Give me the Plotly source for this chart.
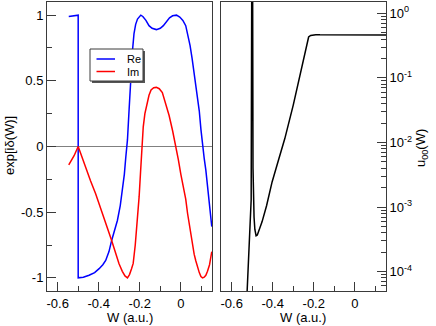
"""Phase factor and u00 versus W."""

import plotly.graph_objects as go

# left panel: exp[i delta(W)]
w_re = [-0.546, -0.53, -0.515, -0.5, -0.5, -0.475, -0.447, -0.42, -0.398, -0.38,
        -0.366, -0.35, -0.337, -0.32, -0.309, -0.295, -0.285, -0.275, -0.268, -0.26,
        -0.252, -0.244, -0.236, -0.228, -0.22, -0.211, -0.203, -0.195, -0.185, -0.17,
        -0.155, -0.14, -0.119, -0.10, -0.085, -0.07, -0.055, -0.04, -0.021, -0.005,
        0.01, 0.024, 0.035, 0.045, 0.055, 0.065, 0.073, 0.081, 0.09, 0.098,
        0.106, 0.114, 0.122, 0.13, 0.14, 0.151]
re = [0.990, 0.995, 0.999, 1.0, -1.0, -0.995, -0.98, -0.96, -0.93, -0.90,
      -0.867, -0.80, -0.715, -0.62, -0.563, -0.45, -0.335, -0.21, -0.08, 0.05,
      0.28, 0.52, 0.72, 0.86, 0.93, 0.97, 0.99, 1.0, 0.99, 0.96,
      0.92, 0.90, 0.89, 0.90, 0.92, 0.95, 0.98, 0.995, 1.0, 0.985,
      0.96, 0.92, 0.85, 0.77, 0.67, 0.56, 0.48, 0.40, 0.27, 0.13,
      0.0, -0.09, -0.18, -0.30, -0.44, -0.61]

w_im = [-0.546, -0.52, -0.5, -0.48, -0.463, -0.44, -0.415, -0.39, -0.366, -0.337,
        -0.32, -0.301, -0.285, -0.272, -0.26, -0.25, -0.24, -0.232, -0.222, -0.211,
        -0.203, -0.196, -0.19, -0.183, -0.175, -0.165, -0.155, -0.145, -0.132, -0.119,
        -0.105, -0.09, -0.073, -0.057, -0.04, -0.024, -0.012, 0.0, 0.012, 0.024,
        0.033, 0.045, 0.055, 0.065, 0.073, 0.081, 0.09, 0.098, 0.106, 0.114,
        0.122, 0.13, 0.14, 0.151]
im = [-0.14, -0.07, 0.0, -0.09, -0.157, -0.26, -0.36, -0.47, -0.576, -0.715,
      -0.80, -0.892, -0.95, -0.985, -1.0, -0.975, -0.93, -0.89, -0.75, -0.57,
      -0.38, -0.19, 0.0, 0.15, 0.25, 0.32, 0.39, 0.43, 0.447, 0.45,
      0.44, 0.41, 0.32, 0.236, 0.12, 0.0, -0.10, -0.21, -0.31, -0.40,
      -0.51, -0.64, -0.73, -0.82, -0.87, -0.92, -0.96, -0.99, -1.0, -0.995,
      -0.98, -0.95, -0.90, -0.80]

# right panel: u00(W), log scale
w_u = [-0.526, -0.515, -0.505, -0.5015, -0.4985, -0.496, -0.494, -0.491, -0.487,
       -0.481, -0.475, -0.467, -0.452, -0.43, -0.403, -0.37, -0.341, -0.30,
       -0.273, -0.25, -0.24, -0.232, -0.225, -0.215, -0.205, -0.19, -0.17,
       -0.1, 0.0, 0.155]
u00 = [4.0e-5, 2.8e-4, 1.3e-3, 20.0, 20.0, 4.0e-3, 1.5e-3, 7.0e-4, 4.5e-4,
       3.6e-4, 3.7e-4, 4.3e-4, 5.9e-4, 1.05e-3, 2.45e-3, 5.6e-3, 1.15e-2, 3.8e-2,
       9.5e-2, 0.204, 0.28, 0.37, 0.43, 0.455, 0.465, 0.468, 0.466,
       0.464, 0.463, 0.463]

x_ticks = [-0.6, -0.4, -0.2, 0]
x_labels = ["-0.6", "-0.4", "-0.2", "0"]
y_ticks = [-1, -0.5, 0, 0.5, 1]
y_labels = ["-1", "-0.5", "0", "0.5", "1"]
log_ticks = [1e-4, 1e-3, 1e-2, 1e-1, 1]
log_labels = ["10<sup>-4</sup>", "10<sup>-3</sup>", "10<sup>-2</sup>",
              "10<sup>-1</sup>", "10<sup>0</sup>"]

minor_log = [m * 10.0 ** e for e in range(-5, 1) for m in range(2, 10)]

W, H = 436, 326
ML, MR, MT, MB = 47, 50, 2, 35
PW, PH = W - ML - MR, H - MT - MB


def px(x):
    return (x - ML) / PW


def py(y):
    return (H - MB - y) / PH


fig = go.Figure()

fig.add_trace(go.Scatter(x=w_re, y=re, mode="lines", name="Re",
                         line=dict(color="#0000ff", width=1.5)))
fig.add_trace(go.Scatter(x=w_im, y=im, mode="lines", name="Im",
                         line=dict(color="#ff0000", width=1.5)))
fig.add_trace(go.Scatter(x=w_u, y=u00, mode="lines",
                         line=dict(color="black", width=1.5),
                         xaxis="x2", yaxis="y2"))

frame = "#3a3a3a"
font = "Liberation Sans, Arial, sans-serif"

fig.update_layout(
    width=W, height=H,
    margin=dict(l=ML, r=MR, t=MT, b=MB, autoexpand=False),
    plot_bgcolor="white", paper_bgcolor="white",
    font=dict(family=font, size=13, color="black"),
    showlegend=False,
    xaxis=dict(domain=[0, px(212)], range=[-0.652, 0.152], showgrid=False, zeroline=False,
               showline=True, linecolor=frame, mirror=True, automargin=False,
               tickvals=x_ticks, ticktext=x_labels, ticks="inside", ticklen=9,
               tickcolor=frame,
               minor=dict(tickvals=[-0.5, -0.3, -0.1, 0.1], ticks="inside", ticklen=5,
                          tickcolor=frame)),
    yaxis=dict(range=[-1.1, 1.1], showgrid=False, zeroline=True, zerolinecolor="#808080",
               zerolinewidth=1, showline=True, linecolor=frame, mirror=True,
               automargin=False,
               tickvals=y_ticks, ticktext=y_labels, ticks="inside", ticklen=9,
               tickcolor=frame,
               minor=dict(tickvals=[-0.75, -0.25, 0.25, 0.75], ticks="inside", ticklen=5,
                          tickcolor=frame)),
    xaxis2=dict(domain=[px(221), 1], range=[-0.652, 0.152], anchor="y2", showgrid=False,
                zeroline=False, showline=True, linecolor=frame, mirror=True,
                automargin=False,
                tickvals=x_ticks, ticktext=x_labels, ticks="inside", ticklen=9,
                tickcolor=frame,
                minor=dict(tickvals=[-0.5, -0.3, -0.1, 0.1], ticks="inside", ticklen=5,
                           tickcolor=frame)),
    yaxis2=dict(type="log", range=[-4.30, 0.176], anchor="x2", side="right",
                showgrid=False, zeroline=False, showline=True, linecolor=frame, mirror=True,
                automargin=False,
                tickvals=log_ticks, ticktext=log_labels, ticks="inside", ticklen=9,
                tickcolor=frame,
                minor=dict(tickvals=minor_log, ticks="inside", ticklen=5, tickcolor=frame)),
)

# axis titles
titles = [
    ("W (a.u.)", 130, 317, 0),
    ("W (a.u.)", 303, 317, 0),
    ("exp[iδ(W)]", 9, 146, -90),
    ("u<sub>00</sub>(W)", 421, 148, -90),
]
for text, x, y, angle in titles:
    fig.add_annotation(text=text, x=px(x), y=py(y), xref="paper", yref="paper",
                       showarrow=False, textangle=angle, font=dict(size=13),
                       xanchor="center", yanchor="middle")

# legend box drawn by hand
fig.add_shape(type="rect", xref="paper", yref="paper",
              x0=px(92), x1=px(145), y0=py(51), y1=py(83),
              fillcolor="#555555", line=dict(width=0))
fig.add_shape(type="rect", xref="paper", yref="paper",
              x0=px(90), x1=px(143), y0=py(49), y1=py(81),
              fillcolor="white", line=dict(color=frame, width=1))
legend_items = [("Re", "#0000ff", 59), ("Im", "#ff0000", 71.5)]
for text, color, y in legend_items:
    fig.add_shape(type="line", xref="paper", yref="paper",
                  x0=px(96.5), x1=px(115), y0=py(y), y1=py(y),
                  line=dict(color=color, width=1.5))
    fig.add_annotation(text=text, x=px(124.5), y=py(y), xref="paper", yref="paper",
                       showarrow=False, font=dict(size=11),
                       xanchor="left", yanchor="middle")

fig.write_html("out.html", config={"displayModeBar": False},
               post_script="document.body.style.margin='0';")
